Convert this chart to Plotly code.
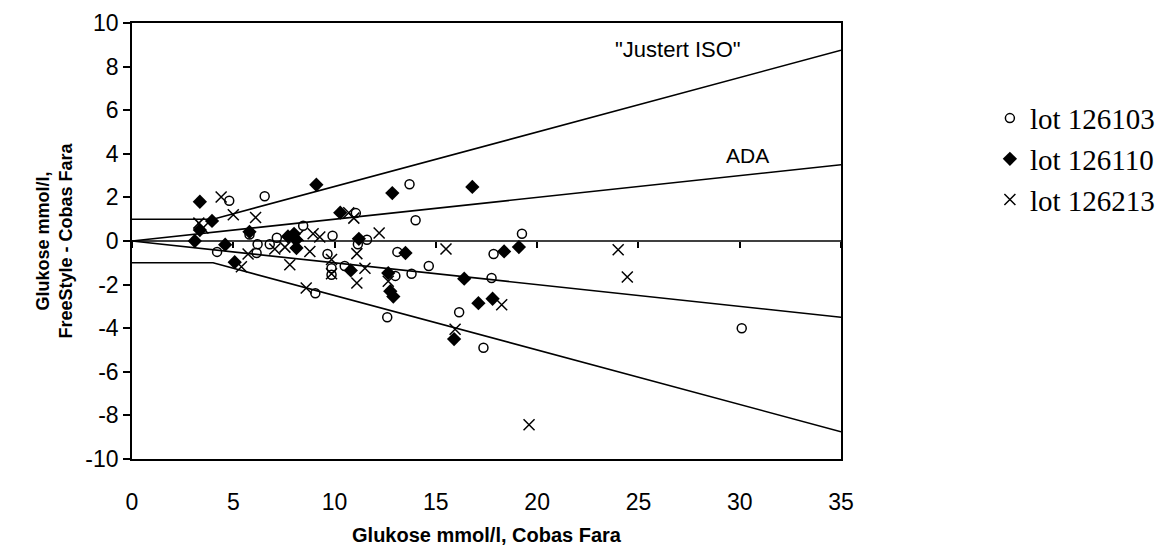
import plotly.graph_objects as go

# ---- data ----
lot1_x = [4.2, 4.8, 5.8, 6.2, 6.15, 6.55, 6.8, 7.15, 8.45, 9.05, 9.9, 9.65, 9.85, 9.85, 10.5,
          11.05, 11.15, 11.6, 12.6, 13.0, 13.1, 13.7, 13.8, 14.0, 14.65, 16.15, 17.35, 17.75,
          17.85, 19.25, 30.1]
lot1_y = [-0.5, 1.85, 0.3, -0.15, -0.55, 2.05, -0.15, 0.15, 0.7, -2.4, 0.24, -0.6, -1.25, -1.55, -1.15,
          1.28, -0.15, 0.06, -3.5, -1.6, -0.5, 2.6, -1.5, 0.95, -1.15, -3.27, -4.9, -1.7,
          -0.6, 0.33, -4.0]

lot2_x = [3.1, 3.35, 3.35, 3.95, 4.6, 5.07, 5.8, 7.7, 8.0, 8.1, 8.12, 9.1, 10.28, 10.8, 11.2,
          12.65, 12.75, 12.9, 12.85, 13.5, 15.9, 16.4, 16.8, 17.1, 17.8, 18.37, 19.1]
lot2_y = [0.0, 0.5, 1.8, 0.92, -0.17, -0.97, 0.42, 0.21, 0.33, 0.05, -0.32, 2.58, 1.3, -1.35, 0.1,
          -1.47, -2.3, -2.55, 2.2, -0.55, -4.5, -1.73, 2.48, -2.85, -2.65, -0.48, -0.28]

lot3_x = [3.3, 3.5, 4.4, 5.0, 6.1, 5.73, 5.4, 7.05, 7.55, 7.79, 8.2, 8.6, 8.78, 8.94, 9.27,
          9.85, 9.85, 10.7, 10.95, 11.1, 11.1, 11.5, 12.2, 12.65, 15.5, 15.95, 18.25, 19.6,
          24.0, 24.45]
lot3_y = [0.82, 0.6, 2.02, 1.2, 1.08, -0.6, -1.18, -0.37, -0.28, -1.09, 0.25, -2.16, -0.48, 0.33, 0.18,
          -0.85, -1.5, 1.3, 1.05, -0.58, -1.93, -1.25, 0.37, -1.85, -0.37, -4.05, -2.92, -8.43,
          -0.4, -1.65]

iso_x = [0, 4, 35]
iso_upper = [1, 1, 8.75]
iso_lower = [-1, -1, -8.75]
ada_x = [0, 35]
ada_upper = [0, 3.5]
ada_lower = [0, -3.5]
zero_x = [0, 35]
zero_y = [0, 0]

series_names = ["lot 126103", "lot 126110", "lot 126213"]
x_ticks = [0, 5, 10, 15, 20, 25, 30, 35]
y_ticks = [-10, -8, -6, -4, -2, 0, 2, 4, 6, 8, 10]
y_ticktext = ["-10", "-8", "-6", "-4", "-2", "0", "2", "4", "6", "8", "10"]

fig = go.Figure()

line_style = dict(color="black", width=1.6)
for lx, ly in [(iso_x, iso_upper), (iso_x, iso_lower), (ada_x, ada_upper),
               (ada_x, ada_lower), (zero_x, zero_y)]:
    fig.add_trace(go.Scatter(x=lx, y=ly, mode="lines", line=line_style,
                             showlegend=False, hoverinfo="skip"))

fig.add_trace(go.Scatter(x=lot1_x, y=lot1_y, mode="markers", name=series_names[0],
                         marker=dict(symbol="circle-open", size=9, color="black",
                                     line=dict(width=1.5, color="black"))))
fig.add_trace(go.Scatter(x=lot2_x, y=lot2_y, mode="markers", name=series_names[1],
                         marker=dict(symbol="diamond", size=11, color="black")))
fig.add_trace(go.Scatter(x=lot3_x, y=lot3_y, mode="markers", name=series_names[2],
                         marker=dict(symbol="x-thin-open", size=11, color="black",
                                     line=dict(width=1.5, color="black"))))

# invisible trace to carry the secondary x-axis (ticks on zero line)
fig.add_trace(go.Scatter(x=zero_x, y=zero_y, xaxis="x2", mode="lines",
                         line=dict(width=0), showlegend=False, hoverinfo="skip"))

fig.update_layout(
    width=1175, height=553,
    paper_bgcolor="white", plot_bgcolor="white",
    margin=dict(l=132, r=334, t=23, b=94, autoexpand=False),
    font=dict(family="Arial, Liberation Sans", color="black"),
    xaxis=dict(range=[0, 35], tickvals=x_ticks, ticks="", showgrid=False, zeroline=False,
               showline=True, linecolor="black", linewidth=1.6, mirror=True,
               tickfont=dict(size=23), ticklabelstandoff=22,
               title=dict(text="<b>Glukose mmol/l, Cobas Fara</b>", font=dict(size=20),
                          standoff=14)),
    xaxis2=dict(range=[0, 35], tickvals=x_ticks, overlaying="x", anchor="free", position=0.5,
                side="bottom", ticks="outside", ticklen=6, tickwidth=1.5, tickcolor="black",
                showticklabels=False, showgrid=False, zeroline=False, showline=False),
    yaxis=dict(range=[-10, 10], tickvals=y_ticks, ticktext=y_ticktext, ticks="outside",
               ticklen=7, tickwidth=1.5, tickcolor="black", showgrid=False, zeroline=False,
               showline=True, linecolor="black", linewidth=1.6, mirror=True,
               tickfont=dict(size=23),
               title=dict(text="<b>Glukose mmol/l,<br>FreeStyle - Cobas Fara</b>",
                          font=dict(size=18), standoff=8)),
    legend=dict(x=1.21, y=0.84, xanchor="left", yanchor="top",
                font=dict(family="Liberation Serif, Times New Roman", size=29),
                tracegroupgap=0, itemwidth=30, bgcolor="rgba(0,0,0,0)"),
    showlegend=True,
)

fig.add_annotation(x=26.96, y=8.77, text='"Justert ISO"', showarrow=False,
                   font=dict(size=22, family="Arial, Liberation Sans"))
fig.add_annotation(x=30.4, y=3.91, text="ADA", showarrow=False,
                   font=dict(size=21, family="Arial, Liberation Sans"))

fig.write_html("out.html", config={"displayModeBar": False},
               post_script="document.body.style.margin='0';")
